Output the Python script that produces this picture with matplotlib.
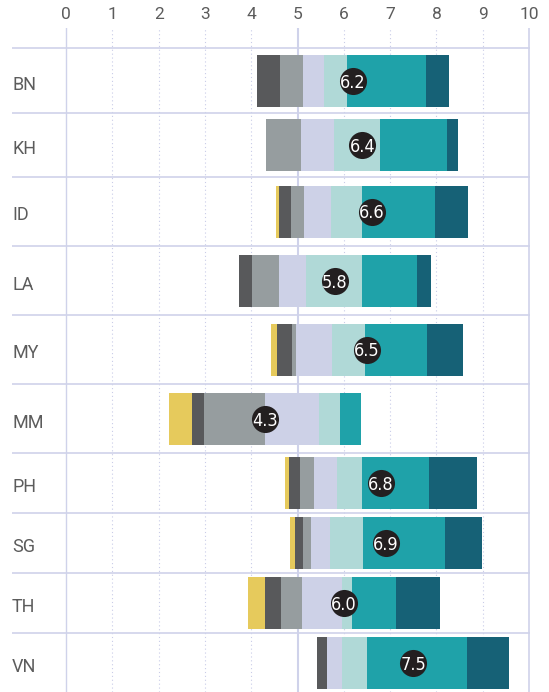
import matplotlib
matplotlib.use("Agg")
import matplotlib.pyplot as plt
import matplotlib.transforms as mtransforms
from matplotlib import font_manager
import numpy as np

# Country codes and average scores (0-10)
countries = ["BN", "KH", "ID", "LA", "MY", "MM", "PH", "SG", "TH", "VN"]
means = [6.2, 6.4, 6.6, 5.8, 6.5, 4.3, 6.8, 6.9, 6.0, 7.5]

# Share of responses (%) in each band, lowest band first
band_1 = [0, 0, 2, 0, 3, 12, 2, 3, 9, 0]
band_2 = [12, 0, 6, 7, 8, 6, 6, 4, 8, 5]
band_3 = [12, 18, 7, 14, 2, 32, 7, 4, 11, 0]
band_4 = [11, 17, 14, 14, 19, 28, 12, 10, 21, 8]
band_5 = [12, 24, 16, 29, 17, 11, 13, 17, 5, 13]
band_6 = [41, 35, 38, 29, 32, 11, 35, 43, 23, 52]
band_7 = [12, 6, 17, 7, 19, 0, 25, 19, 23, 22]

bands = [band_1, band_2, band_3, band_4, band_5, band_6, band_7]
band_colors = ["#e6ca5c", "#58595b", "#969d9f", "#cdd1e7",
               "#b0d9d7", "#1fa2a9", "#166176"]

# layout (y in pixels, rows run top to bottom)
row_heights = [65, 64, 69, 69, 69, 69, 60, 60, 60, 60]
bar_height = 52
bar_span = 4.15          # total bar width in score units, centred on the mean
grid_color = "#cfd2ea"
label_color = "#5c5c5c"

# pick a narrow face for the marker labels if one is installed
narrow = None
for f in font_manager.fontManager.ttflist:
    if f.stretch in ("condensed", "semi-condensed", "extra-condensed") or \
            "Narrow" in f.name or "Condensed" in f.name:
        if f.weight in (400, "normal", "regular"):
            narrow = f
            break
if narrow is not None:
    mean_font = dict(family=narrow.name, stretch=narrow.stretch, fontsize=13)
else:
    mean_font = dict(family="Roboto", fontsize=11)

fig = plt.figure(figsize=(5.49, 6.92), dpi=100)
ax = fig.add_axes([12 / 549, 0, 518 / 549, 664 / 692])

edges = np.concatenate([[0], np.cumsum(row_heights)])
centers = (edges[:-1] + edges[1:]) / 2

ax.set_xlim(-1.17, 10.02)
ax.set_ylim(644, -20)

# vertical guides
for v in range(11):
    if v in (0, 5, 10):
        lw = {0: 1.0, 5: 1.5, 10: 1.2}[v]
        ax.axvline(v, color=grid_color, lw=lw, zorder=1)
    else:
        ax.axvline(v, color="#c9cce8", lw=0.8, ls=(0, (1, 2.5)), zorder=1)

# row separators
for e in edges[:-1]:
    ax.axhline(e, color=grid_color, lw=1.2, zorder=1)

# stacked bars centred on the mean
starts = np.array(means) - bar_span / 2
left = starts.copy()
for shares, color in zip(bands, band_colors):
    widths = np.array(shares) / 100 * bar_span
    ax.barh(centers, widths, left=left, height=bar_height, color=color,
            linewidth=0, zorder=3)
    left = left + widths

# mean markers
ax.scatter(means, centers, s=380, color="#231f20", zorder=4, linewidths=0)
for m, y in zip(means, centers):
    ax.text(m, y, f"{m:.1f}", color="white", ha="center", va="center_baseline",
            zorder=5, **mean_font)

# country labels
trans = mtransforms.blended_transform_factory(ax.transAxes, ax.transData)
for name, y in zip(countries, centers):
    ax.text(0, y + 2, name, transform=trans, ha="left", va="center_baseline",
            fontsize=13, color=label_color, family="Roboto")

# score ticks along the top
ax.xaxis.tick_top()
ax.set_xticks(range(11))
ax.set_xticklabels([str(v) for v in range(11)], fontsize=12.5,
                   color=label_color, family="Roboto")
ax.tick_params(axis="x", length=0, pad=4)
ax.set_yticks([])
for s in ax.spines.values():
    s.set_visible(False)

fig.savefig("out.png", dpi=100)
